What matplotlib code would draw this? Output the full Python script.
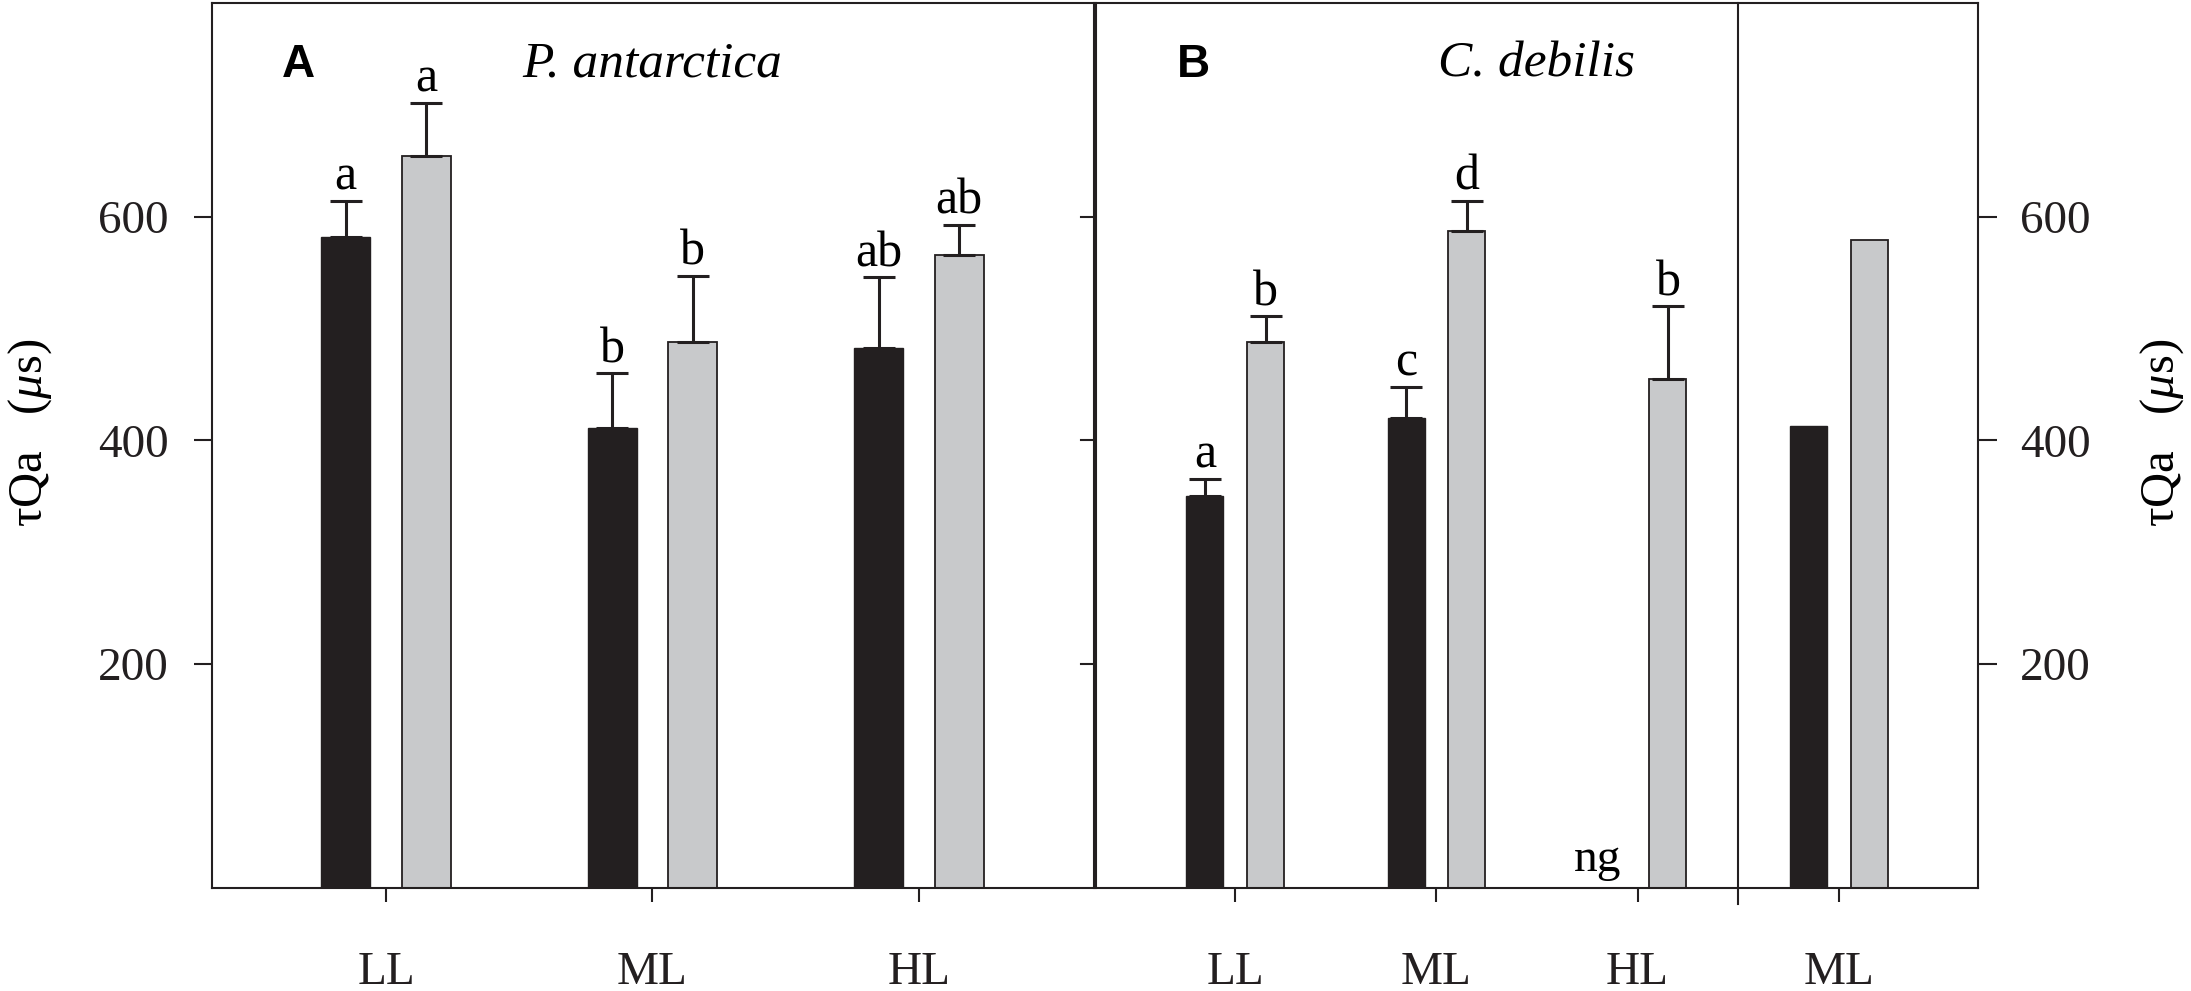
import numpy as np
import matplotlib
matplotlib.use("Agg")
import matplotlib.pyplot as plt

plt.rcParams['font.family'] = ['Liberation Serif', 'DejaVu Serif']
plt.rcParams['mathtext.fontset'] = 'custom'
plt.rcParams['mathtext.rm'] = 'Liberation Serif'
plt.rcParams['mathtext.it'] = 'Liberation Serif:italic'

# ---- data ----
cond_A = ['LL', 'ML', 'HL']
pa_dark = [582, 411, 483]
pa_dark_err = [32, 49, 63]
pa_light = [654, 488, 566]
pa_light_err = [48, 59, 27]
pa_dark_let = ['a', 'b', 'ab']
pa_light_let = ['a', 'b', 'ab']

cond_B = ['LL', 'ML', 'HL', 'ML']
cd_dark = [350, 420, np.nan, 413]
cd_dark_err = [16, 28, np.nan, np.nan]
cd_light = [488, 587, 455, 579]
cd_light_err = [23, 27, 65, np.nan]
cd_dark_let = ['a', 'c', 'ng', '']
cd_light_let = ['b', 'd', 'b', '']

species = ['P. antarctica', 'C. debilis']
panels = ['A', 'B']
yticks = [200, 400, 600]

DARK = '#231f20'
LIGHT = '#c8c9cb'
W = 0.184
OFF = 0.151
FS = 34
LFS = 36
LW = 1.5

fig = plt.figure(figsize=(21.91, 9.91), dpi=100)
axA = fig.add_axes([212/2191, 1-888/991, 882/2191, 885/991])
axB = fig.add_axes([1096/2191, 1-888/991, 882/2191, 885/991])

def draw(ax, cond, dark, dark_err, light, light_err, dlet, llet):
    x = np.arange(1, len(cond)+1)
    d = np.array(dark, float); l = np.array(light, float)
    ax.bar(x-OFF, np.nan_to_num(d), W, color=DARK, edgecolor=DARK, linewidth=1, zorder=2)
    ax.bar(x+OFF, l, W, color=LIGHT, edgecolor=DARK, linewidth=1.3, zorder=2)
    de = np.array(dark_err, float); le = np.array(light_err, float)
    for xs, vals, errs in ((x-OFF, d, de), (x+OFF, l, le)):
        for xi, v, e in zip(xs, vals, errs):
            if not np.isnan(e):
                ax.errorbar(xi, v, yerr=[[0], [e]], fmt='none', ecolor=DARK, elinewidth=2.2,
                            capsize=11.5, capthick=2.2, zorder=3)
    for xs, vals, errs, lets in ((x-OFF, d, de, dlet), (x+OFF, l, le, llet)):
        for xi, v, e, t in zip(xs, vals, errs, lets):
            if t and t != 'ng':
                ax.annotate(t, (xi, v+e), xytext=(0, 8), textcoords='offset points',
                            ha='center', va='baseline', fontsize=LFS)
    ax.set_xticks(x)
    ax.set_xticklabels(cond, fontsize=FS)
    ax.set_ylim(0, 791)
    ax.set_yticks(yticks)
    for s in ax.spines.values():
        s.set_linewidth(LW)
        s.set_color(DARK)
    ax.tick_params(axis='x', direction='out', length=10, width=LW, pad=36, colors=DARK)

draw(axA, cond_A, pa_dark, pa_dark_err, pa_light, pa_light_err, pa_dark_let, pa_light_let)
draw(axB, cond_B, cd_dark, cd_dark_err, cd_light, cd_light_err, cd_dark_let, cd_light_let)

axA.set_xlim(0.347, 3.657)
axB.set_xlim(0.308, 4.692)

# y axes
axA.tick_params(axis='y', direction='out', length=13, width=LW, pad=18, labelsize=FS,
                left=True, right=False, colors=DARK)
for yt in yticks:
    axA.plot([1, 1-13/882], [yt, yt], transform=axA.get_yaxis_transform(), color=DARK,
             lw=LW, clip_on=False)
axB.yaxis.tick_right()
axB.tick_params(axis='y', direction='out', length=14, width=LW, pad=16, labelsize=FS,
                left=False, right=True, colors=DARK)

ylab = r'τQa   ($\mathit{μ}$s)'
fig.text(30/2191, 1-433/991, ylab, rotation=90, ha='center', va='center', fontsize=35)
fig.text(2162/2191, 1-433/991, ylab, rotation=90, ha='center', va='center', fontsize=35)

# divider between B and C
axB.axvline(3.5, ymin=-16/885, ymax=1, color=DARK, lw=LW, clip_on=False)

# ng label
cd_x = np.arange(1, len(cond_B)+1)
axB.text(cd_x[2]-OFF-0.05, 15, 'ng', ha='center', va='baseline', fontsize=FS)

# panel letters and species
axA.text(0.67, 736, panels[0], ha='center', va='center', fontsize=33, fontweight='bold',
         family='Liberation Sans')
axB.text(0.79, 736, panels[1], ha='center', va='center', fontsize=33, fontweight='bold',
         family='Liberation Sans')
axA.text(2.0, 736, species[0], ha='center', va='center', fontsize=37, style='italic')
axB.text(2.5, 736, species[1], ha='center', va='center', fontsize=37, style='italic')

fig.savefig('out.png', dpi=100)
